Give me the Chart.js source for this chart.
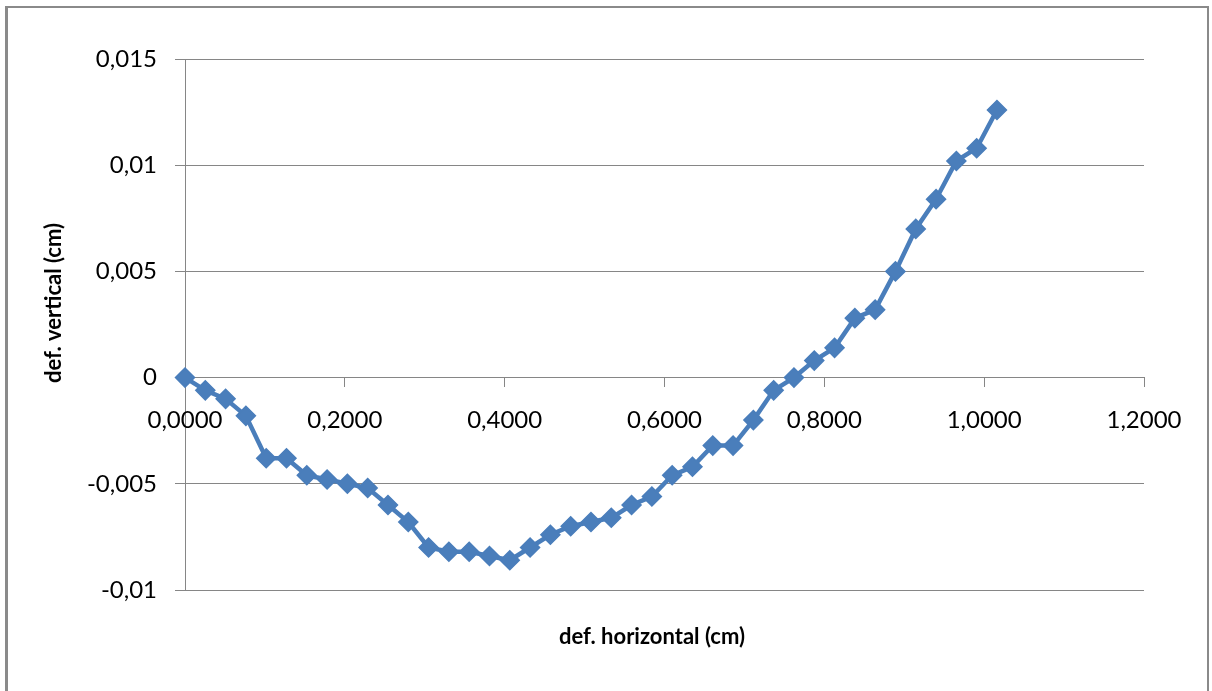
<!DOCTYPE html>
<html>
<head>
<title>def. vertical x def. horizontal</title>
<style>
body {
    margin: 0;
    background: #ffffff;
}
#frame {
    position: absolute;
    left: 5px;
    top: 6px;
    width: 1204px;
    height: 800px;
    box-sizing: border-box;
    border: 2px solid #8a8a8a;
    border-left-width: 3px;
}
#myChart {
    position: absolute;
    left: 0;
    top: 0;
}
</style>
</head>
<body>
    <script src="https://cdn.jsdelivr.net/npm/chart.js"></script>

    <div id="frame"></div>
    <canvas id="myChart" width="1212" height="691"></canvas>
<script>
    // deslocamentos medidos (cm)
    var defHorizontal = [0.0000, 0.0254, 0.0508, 0.0762, 0.1016, 0.1270, 0.1524, 0.1778, 0.2032, 0.2286,
                         0.2540, 0.2794, 0.3048, 0.3302, 0.3556, 0.3810, 0.4064, 0.4318, 0.4572, 0.4826,
                         0.5080, 0.5334, 0.5588, 0.5842, 0.6096, 0.6350, 0.6604, 0.6858, 0.7112, 0.7366,
                         0.7620, 0.7874, 0.8128, 0.8382, 0.8636, 0.8890, 0.9144, 0.9398, 0.9652, 0.9906,
                         1.0160]
    var defVertical = [0, -0.0006, -0.0010, -0.0018, -0.0038, -0.0038, -0.0046, -0.0048, -0.0050, -0.0052,
                       -0.0060, -0.0068, -0.0080, -0.0082, -0.0082, -0.0084, -0.0086, -0.0080, -0.0074, -0.0070,
                       -0.0068, -0.0066, -0.0060, -0.0056, -0.0046, -0.0042, -0.0032, -0.0032, -0.0020, -0.0006,
                       0, 0.0008, 0.0014, 0.0028, 0.0032, 0.0050, 0.0070, 0.0084, 0.0102, 0.0108,
                       0.0126]

    // eixos
    var xTickValues = [0, 0.2, 0.4, 0.6, 0.8, 1.0, 1.2]
    var xTickLabels = ['0,0000', '0,2000', '0,4000', '0,6000', '0,8000', '1,0000', '1,2000']
    var yTickValues = [-0.01, -0.005, 0, 0.005, 0.01, 0.015]
    var yTickLabels = ['-0,01', '-0,005', '0', '0,005', '0,01', '0,015']
    var xTitle = 'def. horizontal (cm)'
    var yTitle = 'def. vertical (cm)'

    var points = []
    defHorizontal.forEach((value, index) => {
        points.push({ x: value, y: defVertical[index] })
    })

    var gridGray = '#868686'
    var lineBlue = '#4a7ebb'

    // titulos dos eixos desenhados a mao (posicao igual ao Excel)
    const axisTitles = {
        id: 'axisTitles',
        afterDraw(chart) {
            const ctx = chart.ctx
            ctx.save()
            ctx.font = 'bold 22px Lato'
            ctx.fillStyle = '#000000'
            ctx.textAlign = 'center'
            ctx.textBaseline = 'middle'
            ctx.fillText(xTitle, 652, 637)
            ctx.translate(54, 303)
            ctx.rotate(-Math.PI / 2)
            ctx.fillText(yTitle, 0, 0)
            ctx.restore()
        }
    }

    const ctx = document.getElementById('myChart').getContext('2d');
    const myChart = new Chart(ctx, {
        type: 'line',
        data: {
            datasets: [{
                label: 'def.',
                data: points,
                borderColor: lineBlue,
                backgroundColor: lineBlue,
                borderWidth: 4.5,
                tension: 0,
                pointStyle: 'rectRot',
                pointRadius: 9.5,
                pointBorderWidth: 1.5,
                pointBackgroundColor: lineBlue,
                pointBorderColor: lineBlue,
                clip: false
            }]
        },
        options: {
            responsive: false,
            animation: false,
            layout: {
                padding: { left: 0, top: 59, right: 68, bottom: 101 }
            },
            plugins: {
                legend: { display: false },
                tooltip: { enabled: false }
            },
            scales: {
                y: {
                    type: 'linear',
                    position: 'left',
                    min: -0.01,
                    max: 0.015,
                    afterFit: (scale) => { scale.width = 185 },
                    afterBuildTicks: (scale) => {
                        scale.ticks = yTickValues.map(v => ({ value: v }))
                    },
                    ticks: {
                        callback: (value, index) => yTickLabels[index],
                        color: '#000000',
                        font: { family: 'Lato', size: 24 },
                        padding: 18,
                        autoSkip: false
                    },
                    grid: {
                        color: gridGray,
                        lineWidth: 1,
                        tickLength: 10
                    },
                    border: { color: gridGray, width: 1 }
                },
                x: {
                    type: 'linear',
                    position: { y: 0 },
                    min: 0,
                    max: 1.2,
                    afterBuildTicks: (scale) => {
                        scale.ticks = xTickValues.map(v => ({ value: v }))
                    },
                    ticks: {
                        callback: (value, index) => xTickLabels[index],
                        color: '#000000',
                        font: { family: 'Lato', size: 24 },
                        padding: 19,
                        maxRotation: 0,
                        autoSkip: false
                    },
                    grid: {
                        drawOnChartArea: false,
                        color: gridGray,
                        lineWidth: 1,
                        tickLength: 9
                    },
                    border: { color: gridGray, width: 1 }
                }
            }
        },
        plugins: [axisTitles]
    });
    </script>

</body>
</html>
